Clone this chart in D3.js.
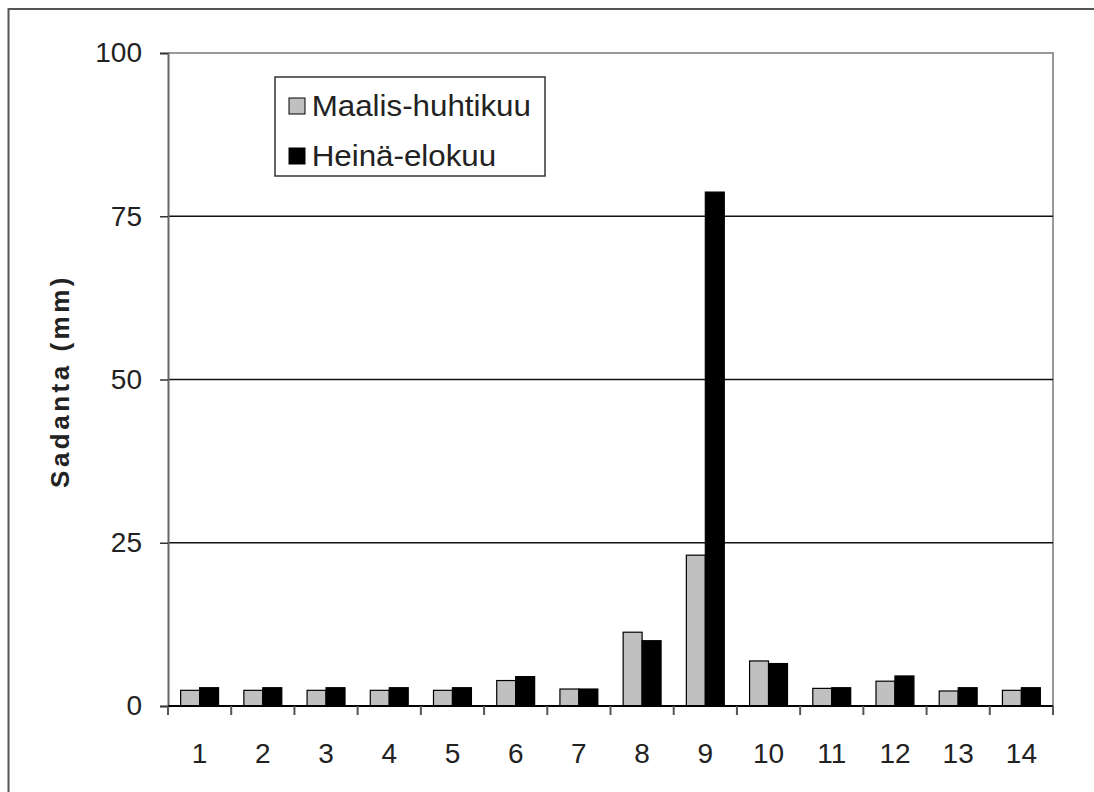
<!DOCTYPE html>
<html>
<head>
<meta charset="utf-8">
<script src="https://cdn.jsdelivr.net/npm/d3@7"></script>
<style>
  body { margin: 0; background: #fff; }
  text { font-family: "Liberation Sans", Arial, sans-serif; fill: #222; }
</style>
</head>
<body>
<div id="chart"></div>
<script>
const categories = ["1", "2", "3", "4", "5", "6", "7", "8", "9", "10", "11", "12", "13", "14"];
const seriesNames = ["Maalis-huhtikuu", "Heinä-elokuu"];
const maalisHuhtikuu = [2.4, 2.4, 2.4, 2.4, 2.4, 3.9, 2.6, 11.3, 23.1, 6.9, 2.7, 3.8, 2.3, 2.4];
const heinaElokuu = [2.8, 2.8, 2.8, 2.8, 2.8, 4.5, 2.6, 10.0, 78.7, 6.5, 2.8, 4.6, 2.8, 2.8];
const yTicks = [0, 25, 50, 75, 100];
const colors = ["#c0c0c0", "#000000"];

const W = 1094, H = 792;
const margin = { top: 53, right: 41, bottom: 86, left: 168 },
  width = W - margin.left - margin.right,
  height = H - margin.top - margin.bottom;

const root = d3.select("#chart")
  .append("svg")
  .attr("width", W)
  .attr("height", H);

// outer frame
root.append("rect")
  .attr("x", 8.5).attr("y", 9)
  .attr("width", W + 20).attr("height", H + 20)
  .attr("fill", "none")
  .attr("stroke", "#555")
  .attr("stroke-width", 2);

const svg = root.append("g")
  .attr("transform", `translate(${margin.left},${margin.top})`);

const x = d3.scaleBand()
  .domain(categories)
  .range([0, width])
  .paddingInner(0.4)
  .paddingOuter(0.2);

const xs = d3.scaleBand()
  .domain(seriesNames)
  .range([0, x.bandwidth()]);

const y = d3.scaleLinear().domain([0, 100]).range([height, 0]);

// plot area border (top + right)
svg.append("path")
  .attr("d", `M0,0H${width}V${height}`)
  .attr("fill", "none")
  .attr("stroke", "#999")
  .attr("stroke-width", 2);

// gridlines
svg.selectAll("line.grid")
  .data(yTicks.filter(d => d > 0 && d < 100))
  .join("line")
  .attr("class", "grid")
  .attr("x1", 0).attr("x2", width)
  .attr("y1", d => y(d)).attr("y2", d => y(d))
  .attr("stroke", "#111")
  .attr("stroke-width", 1.6);

// bars
const data = categories.map((c, i) => ({ cat: c, vals: [maalisHuhtikuu[i], heinaElokuu[i]] }));
const groups = svg.selectAll("g.grp")
  .data(data)
  .join("g")
  .attr("class", "grp")
  .attr("transform", d => `translate(${x(d.cat)},0)`);

groups.selectAll("rect")
  .data(d => d.vals.map((v, j) => ({ name: seriesNames[j], v: v, j: j })))
  .join("rect")
  .attr("x", d => xs(d.name))
  .attr("y", d => y(d.v))
  .attr("width", xs.bandwidth())
  .attr("height", d => y(0) - y(d.v))
  .attr("fill", d => colors[d.j])
  .attr("stroke", "#000")
  .attr("stroke-width", 1.2);

// y axis
const yAxis = svg.append("g")
  .call(d3.axisLeft(y).tickValues(yTicks).tickSize(8).tickPadding(18).tickFormat(d3.format("d")));
yAxis.select(".domain").attr("stroke", "#666").attr("stroke-width", 2);
yAxis.selectAll(".tick line").attr("stroke", "#333").attr("stroke-width", 1.5);
yAxis.selectAll(".tick text")
  .attr("font-size", 28)
  .attr("font-family", "Liberation Sans, Arial, sans-serif")
  .attr("fill", "#333");

// x axis
const xAxis = svg.append("g")
  .attr("transform", `translate(0,${height})`)
  .call(d3.axisBottom(x).tickSize(0).tickPadding(37));
xAxis.select(".domain").remove();
xAxis.selectAll(".tick text")
  .attr("font-size", 28)
  .attr("font-family", "Liberation Sans, Arial, sans-serif")
  .attr("fill", "#333");

svg.append("line")
  .attr("x1", 0).attr("x2", width)
  .attr("y1", height).attr("y2", height)
  .attr("stroke", "#000")
  .attr("stroke-width", 2);

// boundary tick marks
svg.selectAll("line.xtick")
  .data(d3.range(categories.length + 1))
  .join("line")
  .attr("class", "xtick")
  .attr("x1", i => i * x.step()).attr("x2", i => i * x.step())
  .attr("y1", height).attr("y2", height + 9)
  .attr("stroke", "#555")
  .attr("stroke-width", 2);

// y label
svg.append("text")
  .attr("transform", `translate(${60 - margin.left},${381 - margin.top}) rotate(-90)`)
  .attr("text-anchor", "middle")
  .attr("dominant-baseline", "central")
  .attr("font-size", 26)
  .attr("font-weight", "bold")
  .attr("letter-spacing", 3.5)
  .attr("fill", "#111")
  .text("Sadanta (mm)");

// legend
const legend = root.append("g").attr("transform", "translate(275,77)");
legend.append("rect")
  .attr("width", 270).attr("height", 99)
  .attr("fill", "#fff")
  .attr("stroke", "#333")
  .attr("stroke-width", 1.5);

const items = legend.selectAll("g.item")
  .data(seriesNames)
  .join("g")
  .attr("class", "item")
  .attr("transform", (d, i) => `translate(14,${21 + i * 50})`);

items.append("rect")
  .attr("width", 16).attr("height", 16)
  .attr("fill", (d, i) => colors[i])
  .attr("stroke", "#000")
  .attr("stroke-width", 1);

items.append("text")
  .attr("x", 21)
  .attr("y", 8)
  .attr("dominant-baseline", "central")
  .attr("font-size", 29)
  .attr("fill", "#222")
  .attr("transform", "scale(1.08,1)")
  .text(d => d);
</script>
</body>
</html>
